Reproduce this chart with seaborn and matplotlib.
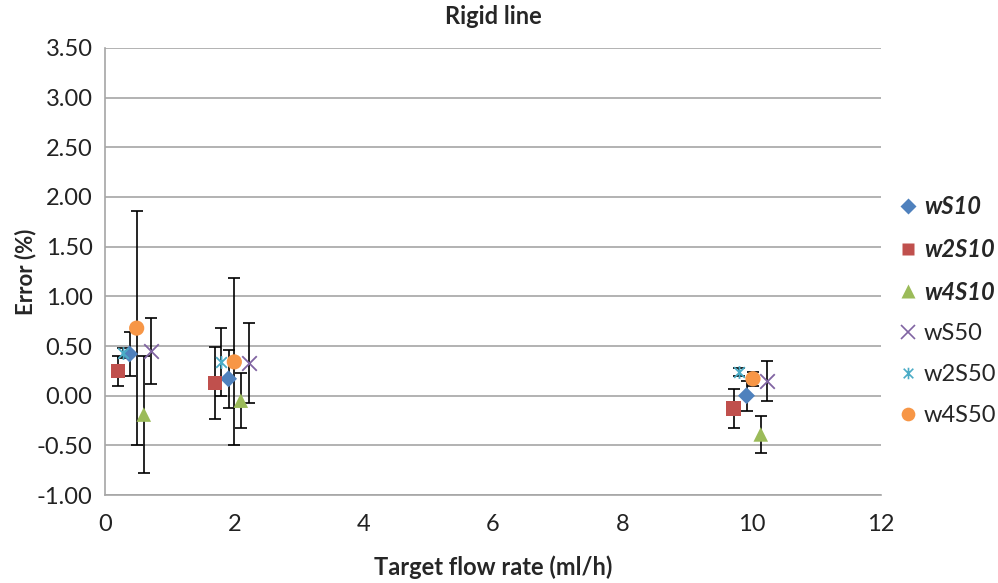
import numpy as np
import pandas as pd
import matplotlib
matplotlib.use("Agg")
import matplotlib.pyplot as plt
import seaborn as sns
from matplotlib.path import Path
from matplotlib.lines import Line2D

# -------------------------------
# Data
# -------------------------------
series = ["wS10", "w2S10", "w4S10", "wS50", "w2S50", "w4S50"]

x_wS10 = [0.38, 1.91, 9.92]
y_wS10 = [0.42, 0.17, 0.00]
e_wS10 = [0.22, 0.29, 0.15]

x_w2S10 = [0.20, 1.70, 9.72]
y_w2S10 = [0.25, 0.13, -0.13]
e_w2S10 = [0.15, 0.36, 0.20]

x_w4S10 = [0.60, 2.10, 10.14]
y_w4S10 = [-0.19, -0.05, -0.39]
e_w4S10 = [0.59, 0.28, 0.19]

x_wS50 = [0.71, 2.22, 10.23]
y_wS50 = [0.45, 0.33, 0.15]
e_wS50 = [0.33, 0.40, 0.20]

x_w2S50 = [0.28, 1.80, 9.80]
y_w2S50 = [0.43, 0.34, 0.24]
e_w2S50 = [0.05, 0.34, 0.04]

x_w4S50 = [0.49, 2.00, 10.02]
y_w4S50 = [0.68, 0.34, 0.17]
e_w4S50 = [1.18, 0.84, 0.07]

xs = [x_wS10, x_w2S10, x_w4S10, x_wS50, x_w2S50, x_w4S50]
ys = [y_wS10, y_w2S10, y_w4S10, y_wS50, y_w2S50, y_w4S50]
es = [e_wS10, e_w2S10, e_w4S10, e_wS50, e_w2S50, e_w4S50]

df = pd.concat(
    [pd.DataFrame({"series": s, "x": x, "y": y, "err": e})
     for s, x, y, e in zip(series, xs, ys, es)],
    ignore_index=True)

# -------------------------------
# Styling
# -------------------------------
colors = {"wS10": "#4F81BD", "w2S10": "#C0504D", "w4S10": "#9BBB59",
          "wS50": "#8064A2", "w2S50": "#4BACC6", "w4S50": "#F79646"}

# star marker: X with a vertical bar
star = Path([(-1, -1), (1, 1), (-1, 1), (1, -1), (0, -1.2), (0, 1.2)],
            [Path.MOVETO, Path.LINETO, Path.MOVETO, Path.LINETO,
             Path.MOVETO, Path.LINETO])

markers = {"wS10": "D", "w2S10": "s", "w4S10": "^",
           "wS50": "x", "w2S50": star, "w4S50": "o"}
sizes = {"wS10": 75, "w2S10": 105, "w4S10": 110,
         "wS50": 110, "w2S50": 85, "w4S50": 120}
filled = {"wS10": True, "w2S10": True, "w4S10": True,
          "wS50": False, "w2S50": False, "w4S50": True}

sns.set_theme(style="white")
plt.rcParams["font.family"] = ["Lato", "DejaVu Sans"]

fig = plt.figure(figsize=(9.98, 5.83), dpi=100)
ax = fig.add_axes([0.1052, 0.1509, 0.7776, 0.7668])

for s in series:
    d = df[df["series"] == s]
    ax.errorbar(d["x"], d["y"], yerr=d["err"], fmt="none", ecolor="black",
                elinewidth=1.2, capsize=4.5, capthick=1.2, zorder=2)
    if filled[s]:
        sns.scatterplot(data=d, x="x", y="y", marker=markers[s], s=sizes[s],
                        color=colors[s], edgecolor="none", ax=ax, zorder=3,
                        legend=False)
    else:
        sns.scatterplot(data=d, x="x", y="y", marker=markers[s], s=sizes[s],
                        color=colors[s], edgecolor=colors[s],
                        linewidth=1.3, ax=ax, zorder=3, legend=False)

ax.set_xlim(0, 12)
ax.set_ylim(-1.0, 3.5)
ax.set_xticks(np.arange(0, 13, 2))
ax.set_yticks(np.arange(-1.0, 3.51, 0.5))
ax.set_yticklabels([f"{v:.2f}" for v in np.arange(-1.0, 3.51, 0.5)])
ax.tick_params(axis="both", labelsize=17, length=0, colors="#222222")
ax.tick_params(axis="y", pad=9)
ax.tick_params(axis="x", pad=14)

ax.yaxis.grid(True, color="#A6A6A6", linewidth=1.2)
ax.xaxis.grid(False)
ax.set_axisbelow(True)
for side in ["top", "right"]:
    ax.spines[side].set_visible(False)
for side in ["left", "bottom"]:
    ax.spines[side].set_color("#A6A6A6")
    ax.spines[side].set_linewidth(1.2)

ax.set_title("Rigid line", fontsize=17, fontweight="bold", pad=17)
ax.set_xlabel("Target flow rate (ml/h)", fontsize=17, fontweight="bold", labelpad=14)
ax.set_ylabel("Error (%)", fontsize=16, fontweight="bold")
ax.yaxis.set_label_coords(-0.088, 0.5)

# legend
handles = []
for s in series:
    if filled[s]:
        h = Line2D([], [], linestyle="none", marker=markers[s], color=colors[s],
                   markersize=np.sqrt(sizes[s]) * 0.9, markeredgecolor="none")
    else:
        h = Line2D([], [], linestyle="none", marker=markers[s], color=colors[s],
                   markerfacecolor="none", markeredgecolor=colors[s],
                   markersize=np.sqrt(sizes[s]) * 0.9, markeredgewidth=1.2)
    handles.append(h)
leg = fig.legend(handles, series, loc="upper left", bbox_to_anchor=(0.876, 0.702),
                 frameon=False, fontsize=17, labelspacing=0.84,
                 handletextpad=0.1, handlelength=1.1)
for i, t in enumerate(leg.get_texts()):
    if i < 3:
        t.set_fontstyle("italic")
        t.set_fontweight("bold")

fig.savefig("out.png", dpi=100)
